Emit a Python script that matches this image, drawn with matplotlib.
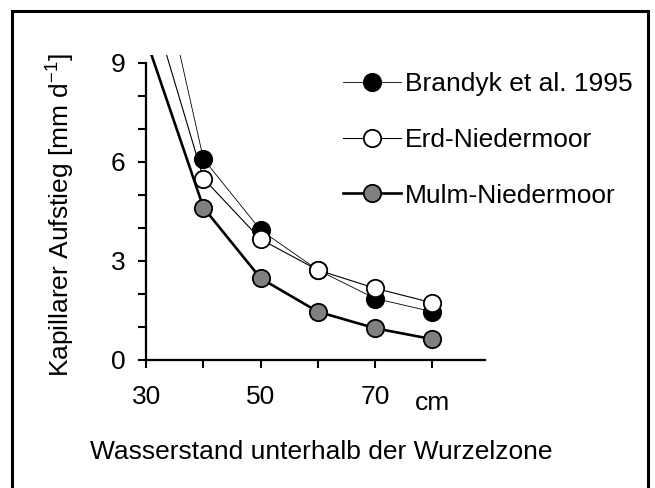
import matplotlib
matplotlib.use("Agg")
import matplotlib.pyplot as plt
from matplotlib.patches import Rectangle
from matplotlib.transforms import ScaledTranslation

plt.rcParams['font.family'] = ['Liberation Sans', 'DejaVu Sans']
plt.rcParams['mathtext.default'] = 'regular'

# Wasserstand unter der Wurzelzone [cm] und kapillarer Aufstieg [mm/d]
depth = [40, 50, 60, 70, 80]
brandyk = [6.08, 3.93, 2.72, 1.86, 1.46]
erd = [5.49, 3.65, 2.72, 2.17, 1.73]
mulm = [4.61, 2.47, 1.46, 0.96, 0.63]

# Kurvenverlauf bei 30 cm (oberhalb der Achse abgeschnitten)
start_depth = 30
brandyk_start = 13.8
erd_start = 11.3
mulm_start = 9.7

xtick_vals = [30, 40, 50, 60, 70, 80]
xtick_text = ['30', '', '50', '', '70', 'cm']
ytick_vals = [0, 3, 6, 9]

fig = plt.figure(figsize=(6.55, 4.88), dpi=100)
ax = fig.add_axes([0.2232, 0.2623, 0.5165, 0.6252])

series = [
    ('Brandyk et al. 1995', brandyk, brandyk_start, 'black', 0.6),
    ('Erd-Niedermoor', erd, erd_start, 'white', 0.8),
    ('Mulm-Niedermoor', mulm, mulm_start, '#808080', 1.9),
]
for label, vals, start, fc, lw in series:
    ax.plot([start_depth] + depth, [start] + vals, color='black', lw=lw,
            marker='o', ms=12.5, mfc=fc, mec='black', mew=1.3,
            markevery=list(range(1, len(depth) + 1)), label=label)

ax.set_xlim(30, 89.1)
ax.set_ylim(0, 9.23)
ax.spines['top'].set_visible(False)
ax.spines['right'].set_visible(False)
ax.spines['left'].set_bounds(0, 9)
for s in ['left', 'bottom']:
    ax.spines[s].set_linewidth(1.6)

ax.set_xticks(xtick_vals)
ax.set_xticklabels(xtick_text)
ax.set_yticks(ytick_vals)
ax.set_yticks(range(0, 10), minor=True)
ax.tick_params(which='both', direction='out', length=6, width=1.5,
               labelsize=19)
ax.tick_params(axis='x', pad=12)
ax.tick_params(axis='y', pad=9)

# "cm" etwas tiefer setzen
cm_lbl = ax.get_xticklabels()[-1]
cm_lbl.set_transform(cm_lbl.get_transform() +
                     ScaledTranslation(0, -4 / 72, fig.dpi_scale_trans))

fig.text(61 / 655, 1 - 215 / 488, 'Kapillarer Aufstieg [mm d$^{-1}$]',
         rotation=90, ha='center', va='center', fontsize=19)
fig.text(321.6 / 655, 36.3 / 488, 'Wasserstand unterhalb der Wurzelzone',
         ha='center', va='center', fontsize=19)

ax.legend(loc='upper left', bbox_to_anchor=(0.523, 0.852),
          bbox_transform=fig.transFigure, frameon=False, fontsize=19,
          handlelength=2.2, handletextpad=0.15, labelspacing=1.2,
          borderpad=0, borderaxespad=0)

# Rahmen um die Abbildung
frame = Rectangle((11.7 / 655, -0.05), (648 - 11.7) / 655, 1.05 - 11 / 488,
                  transform=fig.transFigure, fill=False, lw=2.2,
                  edgecolor='black')
fig.add_artist(frame)

fig.savefig('out.png', dpi=100)
